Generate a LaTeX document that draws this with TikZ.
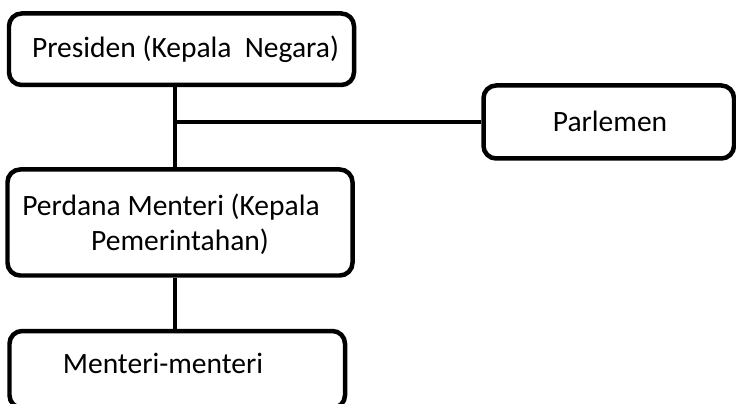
\documentclass[tikz,border=0pt]{standalone}
\usepackage{fontspec}
\setmainfont{Carlito}
\usepackage{tikz}
\usetikzlibrary{positioning,calc}

\begin{document}
\begin{tikzpicture}[
    organ/.style={draw=black, line width=3.2pt, rounded corners=9pt, inner sep=0pt},
    link/.style={draw=black, line width=3.3pt},
    label/.style={font=\fontsize{21}{25}\selectfont, inner sep=0pt}]
  % Sketch: parliamentary system, head of state over head of government
  \clip (0,0) rectangle (18.4,10.075);
  \node[organ, minimum width=8.625cm, minimum height=1.7875cm] (pres) at (4.5375, 8.84375) {};
  \node[organ, minimum width=6.2625cm, minimum height=1.825cm] (parl) at (15.21875, 7.025) {};
  \node[organ, minimum width=8.625cm, minimum height=2.65cm] (perdana) at (4.5, 4.5125) {};
  \node[organ, minimum width=8.3875cm, minimum height=1.925cm] (menteri) at (4.43125, 0.8375) {};
  \node[label, anchor=base] (presTxt) at (4.6375, 8.6375) {Presiden (Kepala \ Negara)};
  \node[label, anchor=base] (parlTxt) at (15.25, 6.775) {Parlemen};
  \node[label, align=center] (perdanaTxt) at (4.5, 4.4625)
    {Perdana Menteri (Kepala\hspace*{0.45cm}\\Pemerintahan)};
  \node[label, anchor=base] (menteriTxt) at (4.075, 0.75) {Menteri-menteri};
  \coordinate (fork) at (4.375, 7.025);
  \draw[link] (pres.south -| fork) -- (perdana.north -| fork);
  \draw[link] (fork) -- (parl.west);
  \draw[link] (perdana.south -| fork) -- (menteri.north -| fork);
\end{tikzpicture}
\end{document}
